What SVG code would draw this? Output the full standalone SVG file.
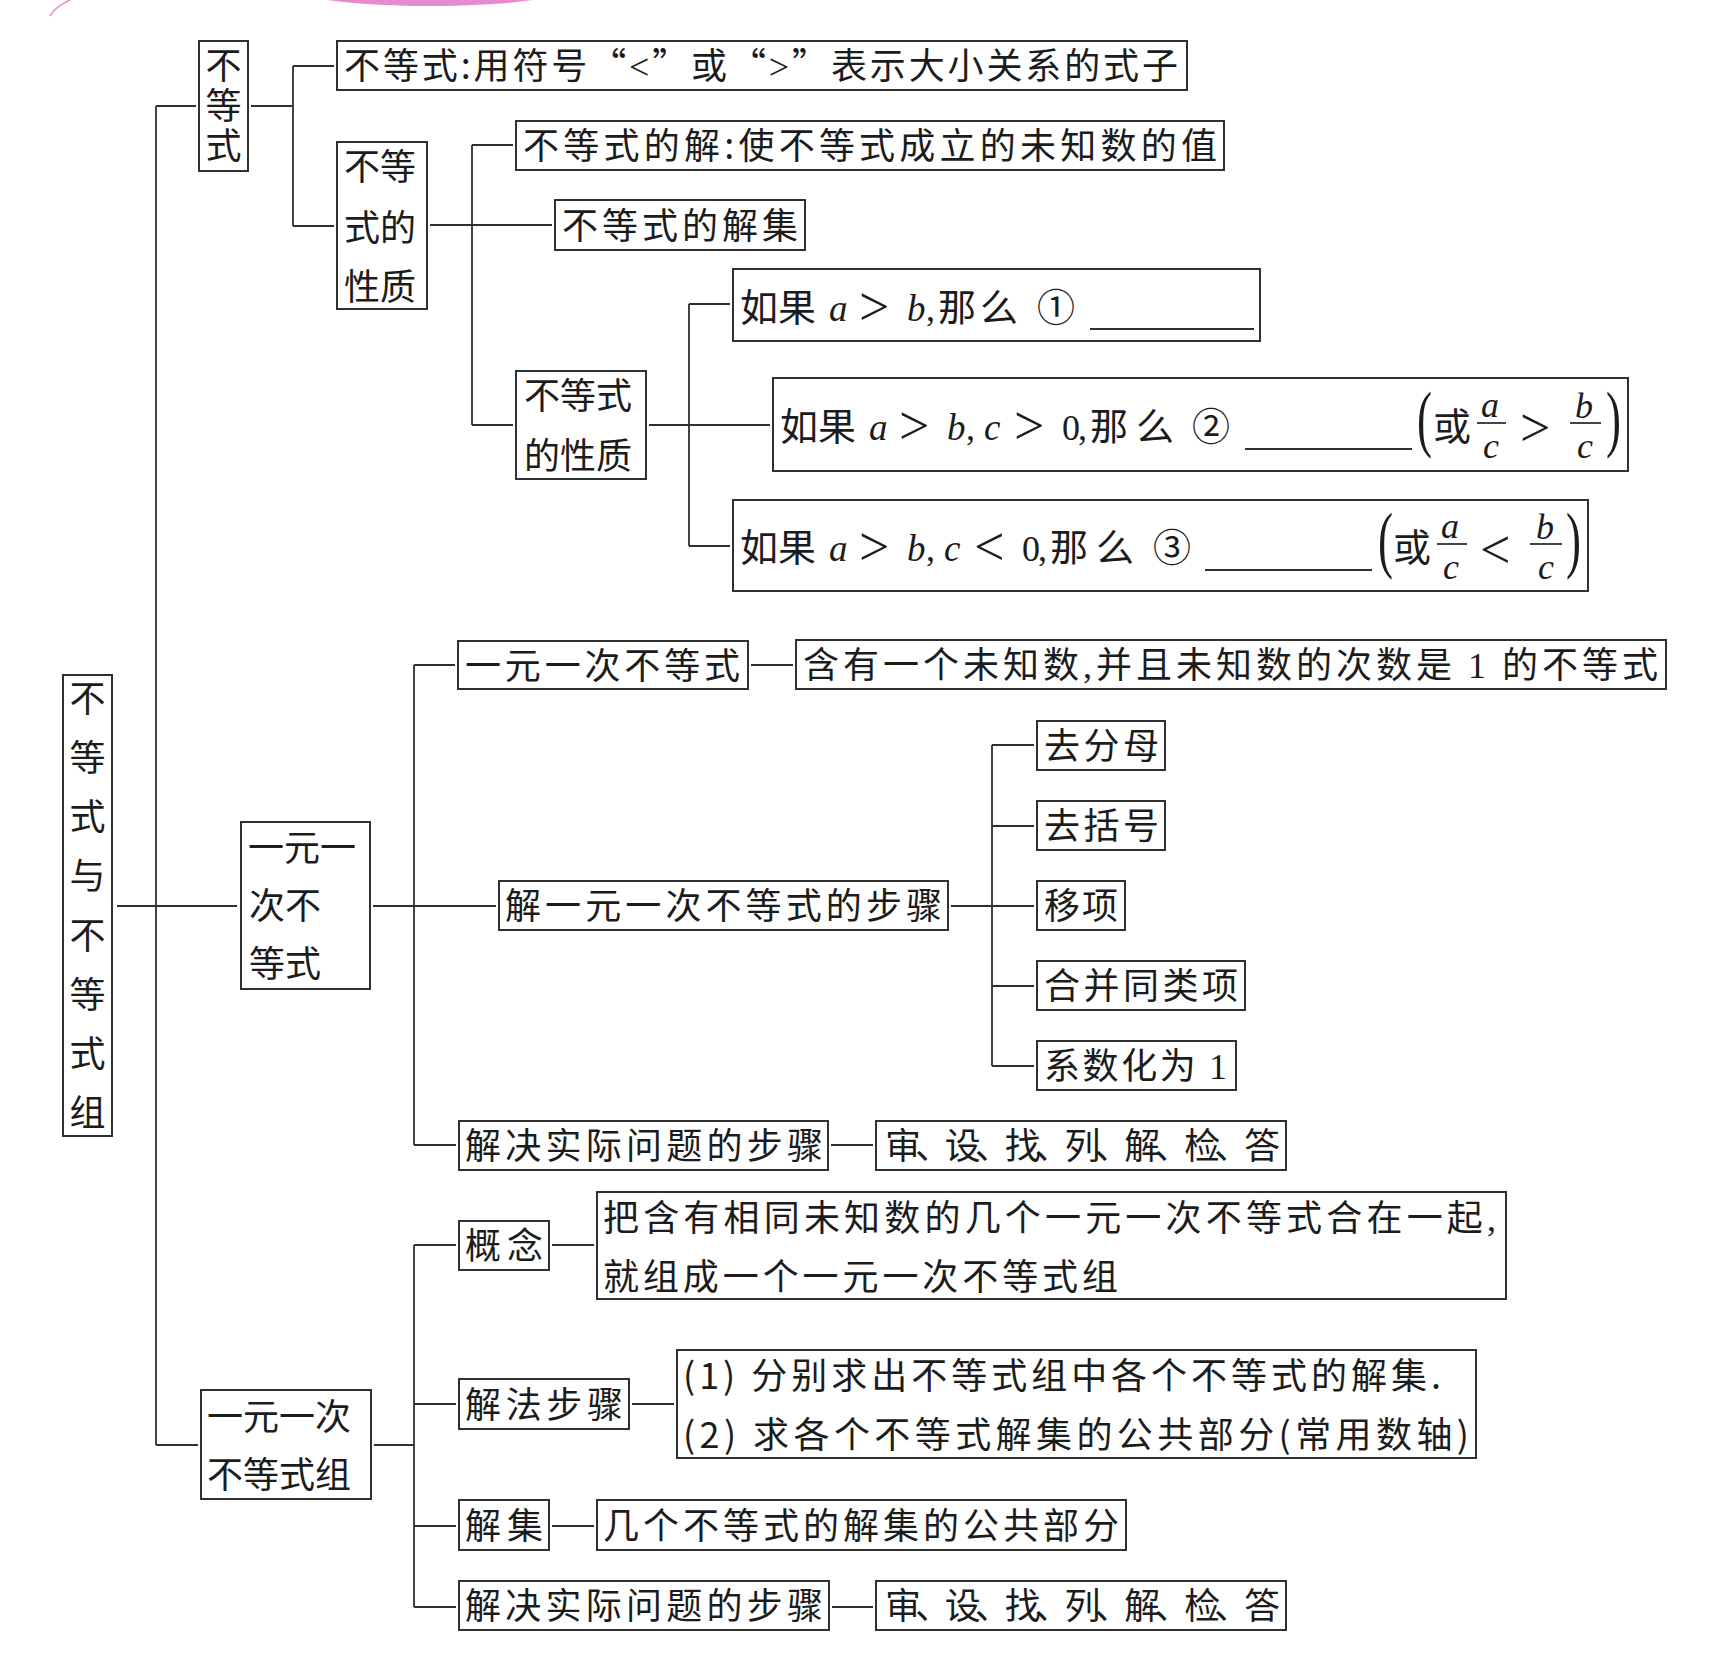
<svg xmlns="http://www.w3.org/2000/svg" width="1721" height="1680" viewBox="0 0 1721 1680">
<style>
.bx{fill:none;stroke:#303030;stroke-width:2}
.ln{fill:none;stroke:#303030;stroke-width:1.8}
.t{font-family:"Noto Sans CJK SC","Noto Sans",sans-serif;font-size:36px;fill:#1c1c1c}
.t8{font-family:"Noto Sans CJK SC","Noto Sans",sans-serif;font-size:38px;fill:#1c1c1c}
.c{text-anchor:middle}
.m{font-family:"Liberation Serif",serif;font-style:italic;font-size:37px;fill:#1c1c1c}
.fr{font-family:"Liberation Serif",serif;font-style:italic;font-size:36px;fill:#1c1c1c;text-anchor:middle}
.r{font-family:"Liberation Serif",serif;font-size:36px;fill:#1c1c1c}
.op{font-family:"Liberation Serif",serif;font-size:54px;fill:#1c1c1c}
.pa{font-family:"Liberation Serif",serif;font-size:75px;fill:#1c1c1c}
</style>
<rect width="1721" height="1680" fill="#ffffff"/>
<g id="decor">
<ellipse cx="430" cy="-9" rx="128" ry="15" fill="#e78bd0"/>
<path d="M50,16 Q56,6 70,0" fill="none" stroke="#e58ccf" stroke-width="1.5"/>
</g>
<g id="connectors">
<path class="ln" d="M156,106 V1445 M156,106 H196 M156,1445 H198 M117,906 H237"/>
<path class="ln" d="M251,106 H293 M293,66 V226 M293,66 H334 M293,226 H334"/>
<path class="ln" d="M430,225 H552 M472,145 V425 M472,145 H513 M472,425 H513"/>
<path class="ln" d="M649,425 H770 M689,304 V546 M689,304 H730 M689,546 H730"/>
<path class="ln" d="M414,665 V1145 M414,665 H455 M751,665 H793 M373,906 H496 M414,1145 H456 M831,1145 H873"/>
<path class="ln" d="M951,906 H1034 M992,745 V1066 M992,745 H1034 M992,826 H1034 M992,986 H1034 M992,1066 H1034"/>
<path class="ln" d="M374,1445 H414 M414,1245 V1607 M414,1245 H456 M414,1404 H456 M414,1526 H456 M414,1607 H456"/>
<path class="ln" d="M552,1245 H594 M632,1404 H674 M552,1526 H594 M832,1607 H873"/>
</g>
<g id="n_root">
<rect class="bx" x="63" y="675" width="49" height="461"/>
<text class="t c"><tspan x="87.5" y="712">不</tspan><tspan x="87.5" y="771">等</tspan><tspan x="87.5" y="830">式</tspan><tspan x="87.5" y="889">与</tspan><tspan x="87.5" y="949">不</tspan><tspan x="87.5" y="1008">等</tspan><tspan x="87.5" y="1067">式</tspan><tspan x="87.5" y="1126">组</tspan></text>
</g>
<g id="n_ineq">
<rect class="bx" x="199" y="41" width="49" height="130"/>
<text class="t" x="223.5" y="47" writing-mode="vertical-rl" style="writing-mode:vertical-rl;letter-spacing:4px">不等式</text>
</g>
<g id="n_def">
<rect class="bx" x="337" y="41" width="850" height="49"/>
<text class="t" x="344" y="79" textLength="834" lengthAdjust="spacing">不等式:用符号“<tspan class="r" font-size="46">&lt;</tspan>”或“<tspan class="r" font-size="46">&gt;</tspan>”表示大小关系的式子</text>
</g>
<g id="n_prop1">
<rect class="bx" x="337" y="142" width="90" height="167"/>
<text class="t"><tspan x="344" y="180">不等</tspan><tspan x="344" y="241">式的</tspan><tspan x="344" y="300">性质</tspan></text>
</g>
<g id="n_sol">
<rect class="bx" x="516" y="121" width="708" height="49"/>
<text class="t" x="523" y="159" textLength="694" lengthAdjust="spacing">不等式的解:使不等式成立的未知数的值</text>
</g>
<g id="n_solset">
<rect class="bx" x="555" y="200" width="250" height="50"/>
<text class="t" x="562" y="239" textLength="236" lengthAdjust="spacing">不等式的解集</text>
</g>
<g id="n_prop2">
<rect class="bx" x="516" y="371" width="130" height="108"/>
<text class="t"><tspan x="524" y="409">不等式</tspan><tspan x="524" y="469">的性质</tspan></text>
</g>
<g id="n_p1">
<rect class="bx" x="733" y="269" width="527" height="72"/>
<text class="t8" x="740" y="321" textLength="76" lengthAdjust="spacing">如果</text>
<text class="m" x="829" y="321">a</text>
<text class="op" x="859" y="325">&gt;</text>
<text class="m" x="907" y="321">b</text>
<text class="r" x="926" y="321">,</text>
<text class="t8" x="938" y="321" textLength="80" lengthAdjust="spacing">那么</text>
<text class="t8" x="1037" y="321">①</text>
<line class="ln" x1="1090" y1="329" x2="1254" y2="329"/>
</g>
<g id="n_p2">
<rect class="bx" x="773" y="378" width="855" height="93"/>
<text class="t8" x="780" y="440" textLength="76" lengthAdjust="spacing">如果</text>
<text class="m" x="869" y="440">a</text>
<text class="op" x="899" y="444">&gt;</text>
<text class="m" x="947" y="440">b</text>
<text class="r" x="966" y="440">,</text>
<text class="m" x="984" y="440">c</text>
<text class="op" x="1014" y="444">&gt;</text>
<text class="r" x="1062" y="440">0</text>
<text class="r" x="1078" y="440">,</text>
<text class="t8" x="1090" y="440" textLength="84" lengthAdjust="spacing">那么</text>
<text class="t8" x="1192" y="440">②</text>
<line class="ln" x1="1245" y1="449" x2="1412" y2="449"/>
<text class="pa" transform="translate(1417,443) scale(0.6,1)">(</text>
<text class="t8" x="1433" y="440">或</text>
<text class="fr" x="1490" y="417">a</text>
<line class="ln" x1="1477" y1="423" x2="1506" y2="423"/>
<text class="fr" x="1491" y="458">c</text>
<text class="op" x="1520" y="446">&gt;</text>
<text class="fr" x="1584" y="418">b</text>
<line class="ln" x1="1570" y1="423" x2="1601" y2="423"/>
<text class="fr" x="1585" y="458">c</text>
<text class="pa" transform="translate(1606,443) scale(0.6,1)">)</text>
</g>
<g id="n_p3">
<rect class="bx" x="733" y="500" width="855" height="91"/>
<text class="t8" x="740" y="561" textLength="76" lengthAdjust="spacing">如果</text>
<text class="m" x="829" y="561">a</text>
<text class="op" x="859" y="565">&gt;</text>
<text class="m" x="907" y="561">b</text>
<text class="r" x="926" y="561">,</text>
<text class="m" x="944" y="561">c</text>
<text class="op" x="974" y="565">&lt;</text>
<text class="r" x="1022" y="561">0</text>
<text class="r" x="1038" y="561">,</text>
<text class="t8" x="1050" y="561" textLength="84" lengthAdjust="spacing">那么</text>
<text class="t8" x="1153" y="561">③</text>
<line class="ln" x1="1205" y1="570" x2="1372" y2="570"/>
<text class="pa" transform="translate(1378,564) scale(0.6,1)">(</text>
<text class="t8" x="1393" y="561">或</text>
<text class="fr" x="1450" y="538">a</text>
<line class="ln" x1="1437" y1="544" x2="1467" y2="544"/>
<text class="fr" x="1451" y="579">c</text>
<text class="op" x="1480" y="568">&lt;</text>
<text class="fr" x="1545" y="539">b</text>
<line class="ln" x1="1530" y1="544" x2="1562" y2="544"/>
<text class="fr" x="1546" y="579">c</text>
<text class="pa" transform="translate(1566,564) scale(0.6,1)">)</text>
</g>
<g id="n_lin">
<rect class="bx" x="241" y="822" width="129" height="167"/>
<text class="t"><tspan x="248" y="861">一元一</tspan><tspan x="249" y="919">次不</tspan><tspan x="249" y="977">等式</tspan></text>
</g>
<g id="n_lin1">
<rect class="bx" x="458" y="641" width="290" height="48"/>
<text class="t" x="465" y="679" textLength="275" lengthAdjust="spacing">一元一次不等式</text>
</g>
<g id="n_lin1def">
<rect class="bx" x="796" y="640" width="870" height="49"/>
<text class="t" x="803" y="678" textLength="855" lengthAdjust="spacing">含有一个未知数<tspan class="r">,</tspan>并且未知数的次数是 <tspan class="r">1</tspan> 的不等式</text>
</g>
<g id="n_steps">
<rect class="bx" x="499" y="881" width="449" height="49"/>
<text class="t" x="505" y="919" textLength="437" lengthAdjust="spacing">解一元一次不等式的步骤</text>
</g>
<g id="n_s1">
<rect class="bx" x="1037" y="721" width="128" height="49"/>
<text class="t" x="1044" y="759" textLength="115" lengthAdjust="spacing">去分母</text>
</g>
<g id="n_s2">
<rect class="bx" x="1037" y="801" width="128" height="49"/>
<text class="t" x="1044" y="839" textLength="115" lengthAdjust="spacing">去括号</text>
</g>
<g id="n_s3">
<rect class="bx" x="1037" y="881" width="88" height="49"/>
<text class="t" x="1044" y="919" textLength="74" lengthAdjust="spacing">移项</text>
</g>
<g id="n_s4">
<rect class="bx" x="1037" y="961" width="208" height="49"/>
<text class="t" x="1044" y="999" textLength="194" lengthAdjust="spacing">合并同类项</text>
</g>
<g id="n_s5">
<rect class="bx" x="1037" y="1041" width="199" height="49"/>
<text class="t" x="1044" y="1079" textLength="183" lengthAdjust="spacing">系数化为 <tspan class="r">1</tspan></text>
</g>
<g id="n_app1">
<rect class="bx" x="459" y="1121" width="369" height="49"/>
<text class="t" x="465" y="1159" textLength="358" lengthAdjust="spacing">解决实际问题的步骤</text>
</g>
<g id="n_app1s">
<rect class="bx" x="876" y="1121" width="410" height="49"/>
<text class="t" x="885" y="1159" textLength="395" lengthAdjust="spacing">审、设、找、列、解、检、答</text>
</g>
<g id="n_sys">
<rect class="bx" x="201" y="1390" width="170" height="109"/>
<text class="t"><tspan x="207" y="1430">一元一次</tspan><tspan x="207" y="1488">不等式组</tspan></text>
</g>
<g id="n_concept">
<rect class="bx" x="459" y="1221" width="90" height="49"/>
<text class="t" x="465" y="1259" textLength="78" lengthAdjust="spacing">概念</text>
</g>
<g id="n_conceptdef">
<rect class="bx" x="597" y="1192" width="909" height="107"/>
<text class="t" x="603" y="1231" textLength="893" lengthAdjust="spacing">把含有相同未知数的几个一元一次不等式合在一起<tspan class="r">,</tspan></text>
<text class="t" x="603" y="1290" textLength="515" lengthAdjust="spacing">就组成一个一元一次不等式组</text>
</g>
<g id="n_method">
<rect class="bx" x="459" y="1379" width="170" height="50"/>
<text class="t" x="465" y="1418" textLength="158" lengthAdjust="spacing">解法步骤</text>
</g>
<g id="n_methoddef">
<rect class="bx" x="677" y="1350" width="799" height="108"/>
<text class="t" x="683" y="1389" textLength="758" lengthAdjust="spacing">(1) 分别求出不等式组中各个不等式的解集.</text>
<text class="t" x="683" y="1448" textLength="786" lengthAdjust="spacing">(2) 求各个不等式解集的公共部分(常用数轴)</text>
</g>
<g id="n_sysset">
<rect class="bx" x="459" y="1500" width="90" height="50"/>
<text class="t" x="465" y="1539" textLength="78" lengthAdjust="spacing">解集</text>
</g>
<g id="n_syssetdef">
<rect class="bx" x="597" y="1500" width="529" height="50"/>
<text class="t" x="603" y="1539" textLength="516" lengthAdjust="spacing">几个不等式的解集的公共部分</text>
</g>
<g id="n_app2">
<rect class="bx" x="459" y="1581" width="370" height="49"/>
<text class="t" x="465" y="1619" textLength="358" lengthAdjust="spacing">解决实际问题的步骤</text>
</g>
<g id="n_app2s">
<rect class="bx" x="876" y="1581" width="410" height="49"/>
<text class="t" x="885" y="1619" textLength="395" lengthAdjust="spacing">审、设、找、列、解、检、答</text>
</g>
</svg>
